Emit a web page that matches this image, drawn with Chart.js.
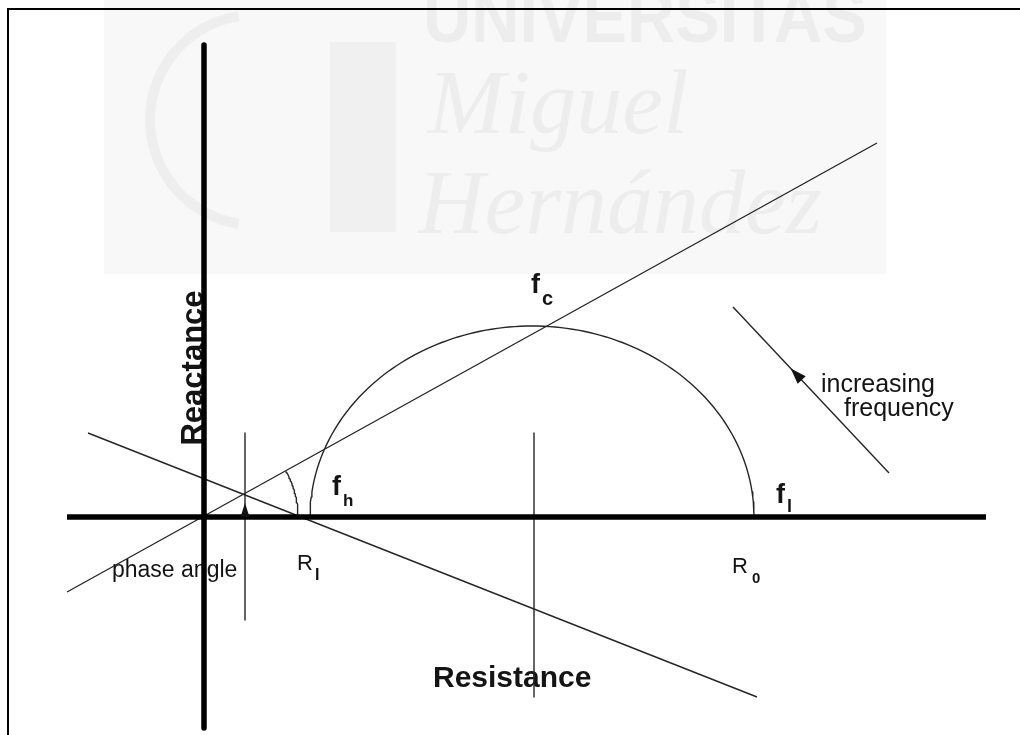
<!DOCTYPE html>
<html>
<head>
<meta charset="utf-8">
<script src="https://cdn.jsdelivr.net/npm/chart.js@4/dist/chart.umd.min.js"></script>
<style>
  html, body { margin: 0; padding: 0; background: #fff; overflow: hidden; }
  #wrap { width: 1020px; height: 735px; position: relative; }
</style>
</head>
<body>
<div id="wrap"><canvas id="cole"></canvas></div>
<script>
// Cole impedance diagram: resistance on x, reactance on y (diagram units, origin at the axes crossing)
const viewX = [-204, 816];
const viewY = [-218, 517];

const resistanceAxisX = [-137, 782];
const reactanceAxisY = [472, -211];

const rInf = 106;       // R∞ : high-frequency intercept
const r0 = 550;         // R0 : low-frequency intercept
const arcHeight = 191;  // reactance at the characteristic frequency fc

const phaseLineX = [-137, 673];
const phaseLineY = [-75, 374];
const secantX = [-116, 553];
const secantY = [84, -180];
const centreLineX = [330, 330];
const centreLineY = [84, -180];
const phaseMarkerX = [41, 41];
const phaseMarkerY = [84, -103];
const phaseArcRadius = 94;
const freqArrowX = [529, 685];
const freqArrowY = [210, 44];

const arcSteps = 120;

// semicircular locus between R∞ and R0
const locus = [];
for (let i = 0; i <= arcSteps; i++) {
  const t = Math.PI - Math.PI * i / arcSteps;
  locus.push({ x: (rInf + r0) / 2 + (r0 - rInf) / 2 * Math.cos(t), y: arcHeight * Math.sin(t) });
}
// angle mark between the resistance axis and the phase line
const phaseAngle = Math.atan2(phaseLineY[1], phaseLineX[1]);
const angleMark = [];
for (let i = 0; i <= 30; i++) {
  const t = phaseAngle * i / 30;
  angleMark.push({ x: phaseArcRadius * Math.cos(t), y: phaseArcRadius * Math.sin(t) });
}

const pts = (xs, ys) => xs.map((x, i) => ({ x, y: ys[i] }));

const thin = { borderColor: '#262626', borderWidth: 1.4, pointRadius: 0, showLine: true, fill: false, tension: 0 };
const thick = { borderColor: '#000', borderWidth: 5.5, pointRadius: 0, showLine: true, fill: false, borderCapStyle: 'butt' };

const datasets = [
  Object.assign({ data: pts(resistanceAxisX, [0, 0]) }, thick),
  Object.assign({ data: pts([0, 0], reactanceAxisY) }, thick),
  Object.assign({ data: locus }, thin),
  Object.assign({ data: pts(phaseLineX, phaseLineY) }, thin),
  Object.assign({ data: pts(secantX, secantY) }, thin),
  Object.assign({ data: pts(centreLineX, centreLineY) }, thin),
  Object.assign({ data: pts(phaseMarkerX, phaseMarkerY) }, thin),
  Object.assign({ data: angleMark }, thin),
  Object.assign({ data: pts(freqArrowX, freqArrowY) }, thin)
];

const labels = [
  { text: 'Resistance', x: 229, y: -170, font: 'bold 30px "Liberation Sans", Arial, sans-serif' },
  { text: 'phase angle', x: -92, y: -60, font: '23px "Liberation Sans", Arial, sans-serif' },
  { text: 'R', x: 93, y: -53, font: '22px "Liberation Sans", Arial, sans-serif' },
  { text: 'I', x: 111, y: -63, font: 'bold 16px "Liberation Sans", Arial, sans-serif' },
  { text: 'R', x: 528, y: -56, font: '22px "Liberation Sans", Arial, sans-serif' },
  { text: '0', x: 548, y: -66, font: 'bold 15px "Liberation Sans", Arial, sans-serif' },
  { text: 'f', x: 128, y: 22, font: 'bold 27px "Liberation Sans", Arial, sans-serif' },
  { text: 'h', x: 139, y: 11, font: 'bold 17px "Liberation Sans", Arial, sans-serif' },
  { text: 'f', x: 327, y: 224, font: 'bold 27px "Liberation Sans", Arial, sans-serif' },
  { text: 'c', x: 338, y: 212, font: 'bold 20px "Liberation Sans", Arial, sans-serif' },
  { text: 'f', x: 572, y: 14, font: 'bold 27px "Liberation Sans", Arial, sans-serif' },
  { text: 'l', x: 583, y: 5, font: 'bold 18px "Liberation Sans", Arial, sans-serif' },
  { text: 'increasing', x: 617, y: 125, font: '25px "Liberation Sans", Arial, sans-serif' },
  { text: 'frequency', x: 640, y: 101, font: '25px "Liberation Sans", Arial, sans-serif' }
];

const decor = {
  id: 'decor',
  beforeDraw(chart) {
    const ctx = chart.ctx;
    ctx.save();
    ctx.fillStyle = '#fff';
    ctx.fillRect(0, 0, chart.width, chart.height);
    // faint institutional watermark
    ctx.fillStyle = '#f8f8f8';
    ctx.fillRect(104, 0, 782, 274);
    ctx.fillStyle = '#ededed';
    ctx.textBaseline = 'alphabetic';
    ctx.textAlign = 'left';
    ctx.save();
    ctx.translate(423, 42);
    ctx.scale(0.89, 1);
    ctx.font = 'bold 75px "Liberation Sans", Arial, sans-serif';
    ctx.fillText('UNIVERSITAS', 0, 0);
    ctx.restore();
    ctx.font = 'italic 92px "Liberation Serif", "Times New Roman", serif';
    ctx.fillText('Miguel', 428, 133);
    ctx.fillText('Hernández', 418, 233);
    ctx.strokeStyle = '#eeeeee';
    ctx.lineWidth = 10;
    ctx.beginPath();
    ctx.arc(255, 120, 105, Math.PI * 0.55, Math.PI * 1.45);
    ctx.stroke();
    ctx.fillStyle = '#f0f0f0';
    ctx.fillRect(330, 42, 66, 190);
    ctx.restore();
  },
  beforeDatasetsDraw(chart) {
    const ctx = chart.ctx;
    const sx = chart.scales.x, sy = chart.scales.y;
    ctx.save();
    ctx.fillStyle = '#141414';
    ctx.textBaseline = 'alphabetic';
    ctx.textAlign = 'left';
    labels.forEach(l => {
      ctx.font = l.font;
      ctx.fillText(l.text, sx.getPixelForValue(l.x), sy.getPixelForValue(l.y));
    });
    // vertical axis title
    ctx.translate(sx.getPixelForValue(-1), sy.getPixelForValue(149));
    ctx.rotate(-Math.PI / 2);
    ctx.textAlign = 'center';
    ctx.font = 'bold 31px "Liberation Sans", Arial, sans-serif';
    ctx.fillText('Reactance', 0, 0);
    ctx.restore();
  },
  afterDatasetsDraw(chart) {
    const ctx = chart.ctx;
    const sx = chart.scales.x, sy = chart.scales.y;
    const head = (fromX, fromY, tipX, tipY, len, half) => {
      const ax = sx.getPixelForValue(fromX), ay = sy.getPixelForValue(fromY);
      const bx = sx.getPixelForValue(tipX), by = sy.getPixelForValue(tipY);
      const d = Math.hypot(bx - ax, by - ay);
      const ux = (bx - ax) / d, uy = (by - ay) / d;
      ctx.beginPath();
      ctx.moveTo(bx, by);
      ctx.lineTo(bx - ux * len - uy * half, by - uy * len + ux * half);
      ctx.lineTo(bx - ux * len + uy * half, by - uy * len - ux * half);
      ctx.closePath();
      ctx.fill();
    };
    ctx.save();
    ctx.fillStyle = '#111';
    // arrow on the phase-angle marker, pointing up from the resistance axis
    head(phaseMarkerX[0], 0, phaseMarkerX[0], 14, 14, 4.5);
    // arrow along the frequency direction line
    const t = 0.37;
    const tipX = freqArrowX[1] + (freqArrowX[0] - freqArrowX[1]) * (1 - t);
    const tipY = freqArrowY[1] + (freqArrowY[0] - freqArrowY[1]) * (1 - t);
    head(freqArrowX[1], freqArrowY[1], tipX, tipY, 16, 5.5);
    ctx.restore();
  },
  afterDraw(chart) {
    const ctx = chart.ctx;
    ctx.save();
    ctx.strokeStyle = '#000';
    ctx.lineWidth = 2;
    ctx.beginPath();
    ctx.moveTo(8, chart.height);
    ctx.lineTo(8, 9);
    ctx.lineTo(chart.width, 9);
    ctx.stroke();
    ctx.restore();
  }
};

new Chart(document.getElementById('cole'), {
  type: 'scatter',
  data: { datasets },
  options: {
    responsive: true,
    maintainAspectRatio: false,
    animation: false,
    layout: { padding: 0 },
    plugins: { legend: { display: false }, tooltip: { enabled: false }, title: { display: false } },
    elements: { line: { borderJoinStyle: 'round' } },
    scales: {
      x: { type: 'linear', min: viewX[0], max: viewX[1], display: false },
      y: { type: 'linear', min: viewY[0], max: viewY[1], display: false }
    }
  },
  plugins: [decor]
});
</script>
</body>
</html>
